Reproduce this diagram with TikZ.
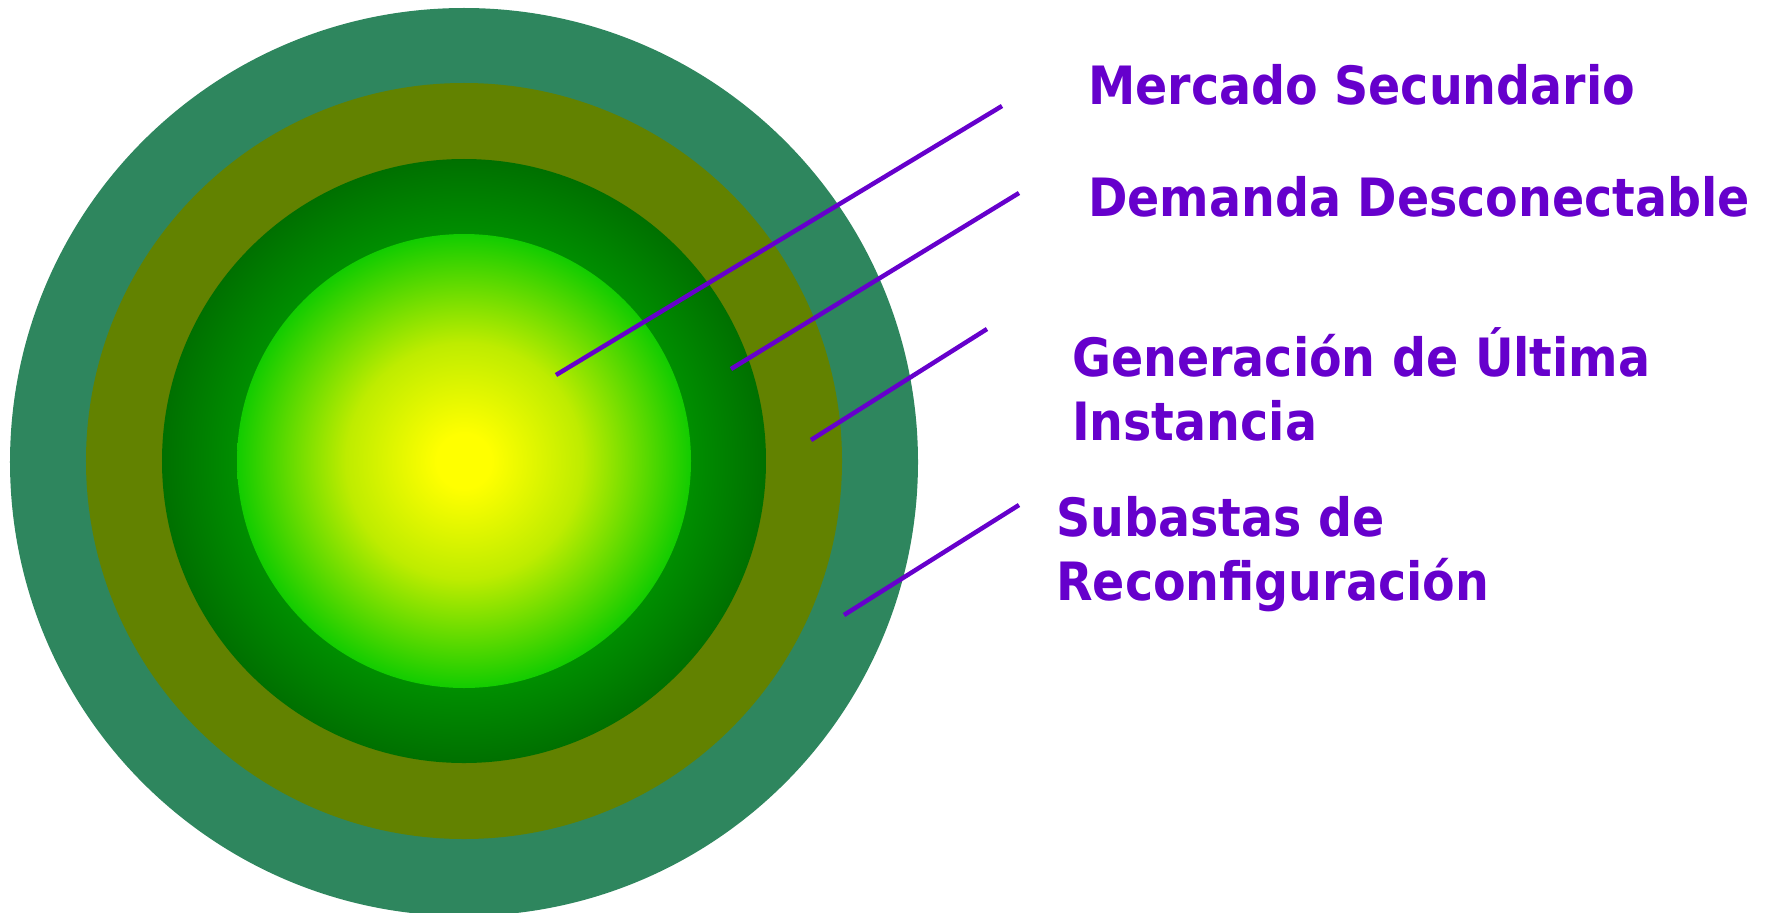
\documentclass[tikz,border=0pt]{standalone}
\usepackage{fontspec}
\newfontfamily\labelfont{DejaVu Sans Condensed Bold}

\definecolor{outerteal}{RGB}{46,134,94}
\definecolor{ringolive}{RGB}{98,130,0}
\definecolor{ringgreen}{RGB}{0,142,0}
\definecolor{ringdark}{RGB}{0,112,0}
\definecolor{coreyellow}{RGB}{255,255,0}
\definecolor{coremid}{RGB}{190,236,0}
\definecolor{coregreen}{RGB}{18,204,0}
\definecolor{labelpurple}{RGB}{102,0,204}

\pgfdeclareradialshading{coreshade}{\pgfpoint{0bp}{0bp}}{color(0bp)=(coreyellow); color(3bp)=(coreyellow); color(13bp)=(coremid); color(25bp)=(coregreen); color(50bp)=(coregreen)}
\pgfdeclareradialshading{ringshade}{\pgfpoint{0bp}{0bp}}{color(0bp)=(ringgreen); color(18.8bp)=(ringgreen); color(25bp)=(ringdark); color(50bp)=(ringdark)}

\begin{document}
\begin{tikzpicture}[x=1bp,y=-1bp,
  lbl/.style={anchor=base west,align=left,inner sep=0pt,text=labelpurple,
    font=\labelfont\fontsize{53}{64}\selectfont},
  pointer/.style={draw=labelpurple,line width=4.5bp}]
 \useasboundingbox (0,0) rectangle (1767,912);
 % rings, outside in
 \fill[outerteal] (464,462) circle [radius=454bp];
 \fill[ringolive] (464,461) circle [radius=378bp];
 \shade[shading=ringshade] (464,461) circle [radius=302bp];
 \shade[shading=coreshade] (464,461) circle [radius=227bp];

 % base anchor sits on the last line
 \node[lbl] (ms) at (1088,104) {Mercado Secundario};
 \node[lbl] (dd) at (1088,216) {Demanda Desconectable};
 \node[lbl] (gui) at (1072,440) {Generación de Última\\Instancia};
 \node[lbl] (sr) at (1056,600) {Subastas de\\Reconfiguración};

 \coordinate (ms-in) at (556,375);  \coordinate (ms-out) at (1002,106);
 \coordinate (dd-in) at (731,369);  \coordinate (dd-out) at (1019,193);
 \coordinate (gui-in) at (811,440); \coordinate (gui-out) at (987,329);
 \coordinate (sr-in) at (844,615);  \coordinate (sr-out) at (1019,505);
 \draw[pointer] (ms-in) -- (ms-out);
 \draw[pointer] (dd-in) -- (dd-out);
 \draw[pointer] (gui-in) -- (gui-out);
 \draw[pointer] (sr-in) -- (sr-out);
\end{tikzpicture}
\end{document}
